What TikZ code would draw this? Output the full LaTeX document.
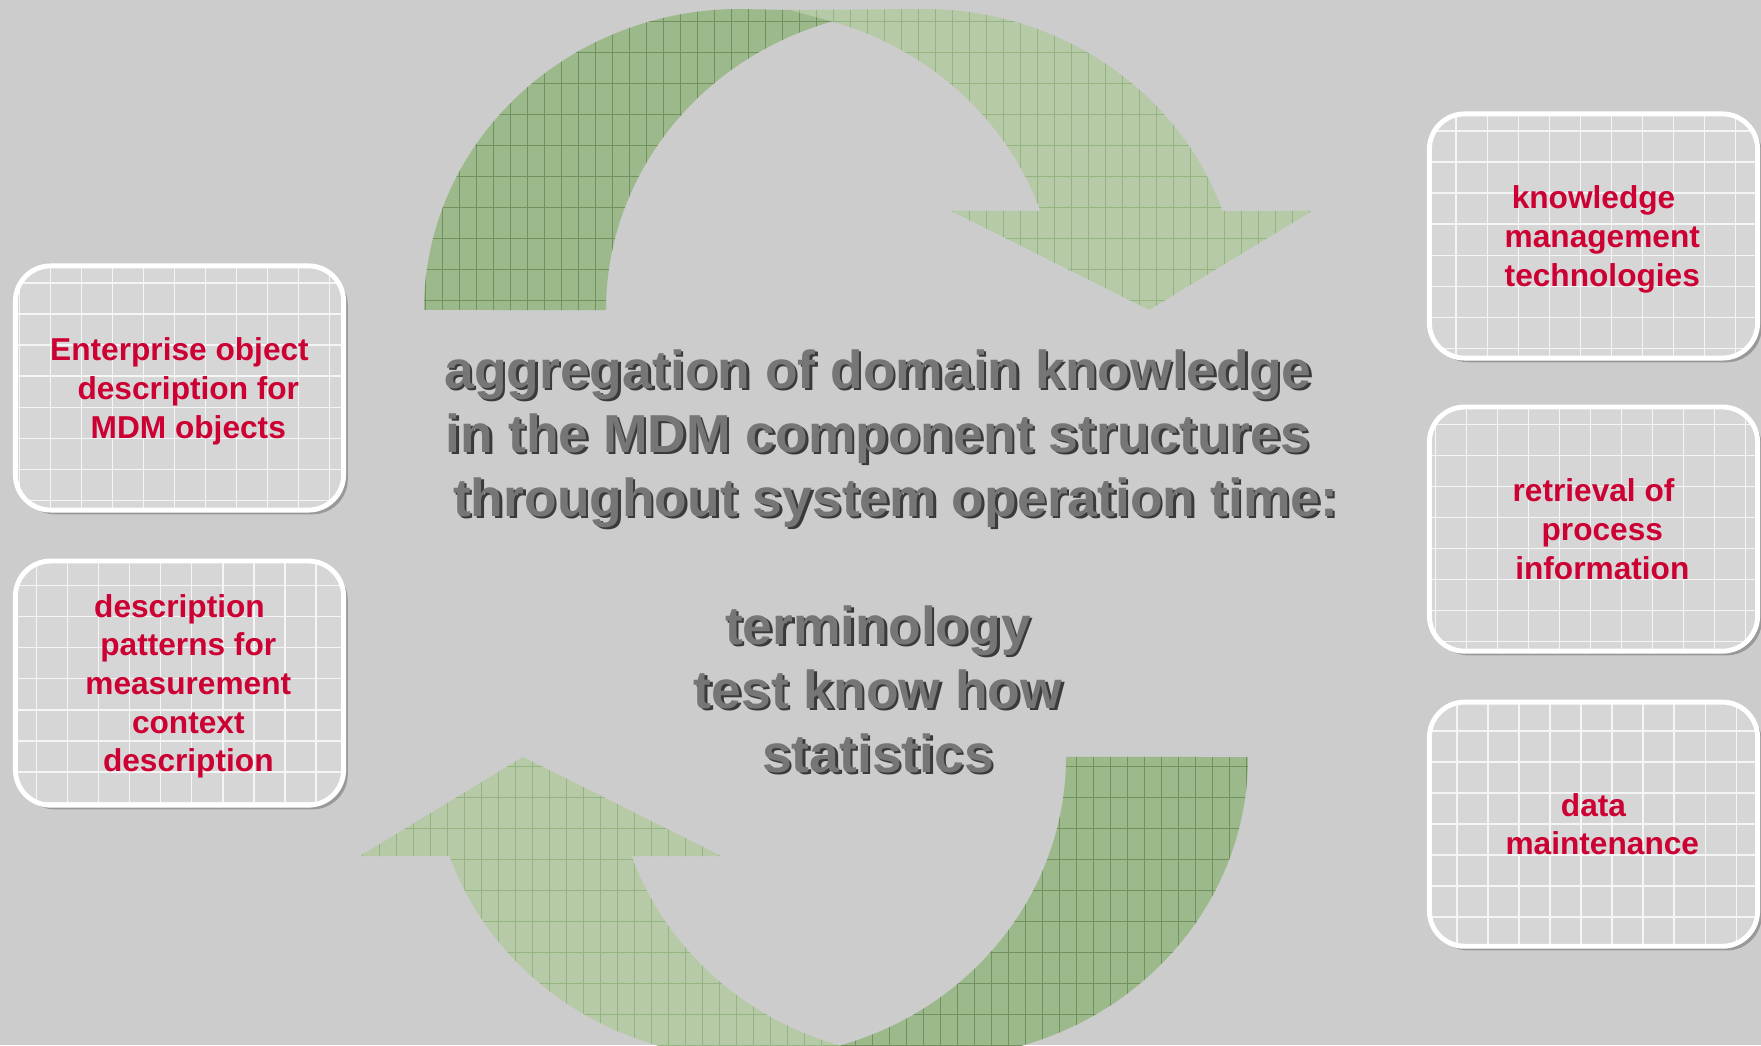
\documentclass[tikz,border=0pt]{standalone}
\usepackage{fontspec}
\setmainfont{Liberation Sans}
\usetikzlibrary{positioning, shadows}
\definecolor{bggrey}{HTML}{CCCCCC}
\definecolor{boxgrey}{HTML}{D6D6D6}
\definecolor{mdmred}{HTML}{CC0033}
\definecolor{textgrey}{HTML}{767676}
\definecolor{shadegrey}{HTML}{3A3A3A}
\definecolor{greendark}{HTML}{9CB98B}
\definecolor{greenlight}{HTML}{B6CAA8}
\definecolor{greenline}{HTML}{86AA72}
\tikzset{
  kbox/.style  = {draw=white, line width=1.4pt, rounded corners=10pt, fill=boxgrey,
                  minimum width=3.28cm, minimum height=2.44cm, align=center,
                  text depth=0pt,
                  font=\bfseries\fontsize{9}{11}\selectfont, text=mdmred,
                  drop shadow={shadow xshift=1.2pt, shadow yshift=-1.2pt,
                               fill=gray!80, opacity=1},
                  path picture={\draw[white!75!boxgrey, line width=0.35pt, step=0.31cm]
                    (path picture bounding box.south west) grid
                    (path picture bounding box.north east);}},
  ctext/.style = {align=center, font=\bfseries\fontsize{15.2}{18.2}\selectfont},
  bandgrid/.style = {line width=0.2pt, xstep=0.17cm, ystep=0.31cm}
}
% the two halves of one curved arrow, in pixel units
\newcommand{\cyclehead}{(790,1035) -- (924,1036)
  arc[start angle=90, end angle=19.2, x radius=316, y radius=301]
  -- (1312,834) -- (1149,735) -- (951,834) -- (1040.4,834)
  arc[start angle=19.2, end angle=73.45, x radius=316, y radius=301] -- cycle}
\newcommand{\cycletail}{(424,735)
  arc[start angle=180, end angle=90, x radius=316, y radius=301]
  -- (790,1035) -- (832,1023.5)
  arc[start angle=106.55, end angle=180, x radius=316, y radius=301] -- cycle}
\begin{document}
\begin{tikzpicture}[x=0.01cm, y=0.01cm]
  \useasboundingbox (0,0) rectangle (1761,1045);
  \fill[bggrey] (0,0) rectangle (1761,1045);

  % cycle arrows
  \foreach \turn in {0,180} {
    \begin{scope}[rotate around={\turn:(836,511.5)}]
      \fill[greenlight] \cyclehead;
      \begin{scope}
        \clip \cyclehead;
        \draw[bandgrid, greenline!70!greenlight] (380,690) grid (1360,1045);
      \end{scope}
      \fill[greendark] \cycletail;
      \begin{scope}
        \clip \cycletail;
        \draw[bandgrid, greenline!85!black] (380,690) grid (1360,1045);
      \end{scope}
    \end{scope}
  }

  % centre text
  \node[ctext, text=shadegrey] (aggrshade) at (880.5,481.5) {aggregation of domain knowledge\\
    in the MDM component structures\\
    \hspace*{10pt}throughout system operation time:\\[18.2pt]
    terminology\\test know how\\statistics};
  \node[ctext, text=textgrey] (aggr) at (878,484) {aggregation of domain knowledge\\
    in the MDM component structures\\
    \hspace*{10pt}throughout system operation time:\\[18.2pt]
    terminology\\test know how\\statistics};

  % left boxes
  \node[kbox] (objdesc) at (179.5,657) {Enterprise object\\
    \hspace*{5pt}description for\\\hspace*{5pt}MDM objects};
  \node[kbox, below=0.46cm of objdesc] (patterns) {description\\
    \hspace*{5pt}patterns for\\\hspace*{5pt}measurement\\
    \hspace*{5pt}context\\\hspace*{5pt}description};

  % right boxes
  \node[kbox] (kmtech) at (1593.5,809) {knowledge\\
    \hspace*{5pt}management\\\hspace*{5pt}technologies};
  \node[kbox, below=0.44cm of kmtech] (retrieval) {retrieval of\\
    \hspace*{5pt}process\\\hspace*{5pt}information};
  \node[kbox, below=0.46cm of retrieval] (maint) {data\\
    \hspace*{5pt}maintenance};
\end{tikzpicture}
\end{document}
